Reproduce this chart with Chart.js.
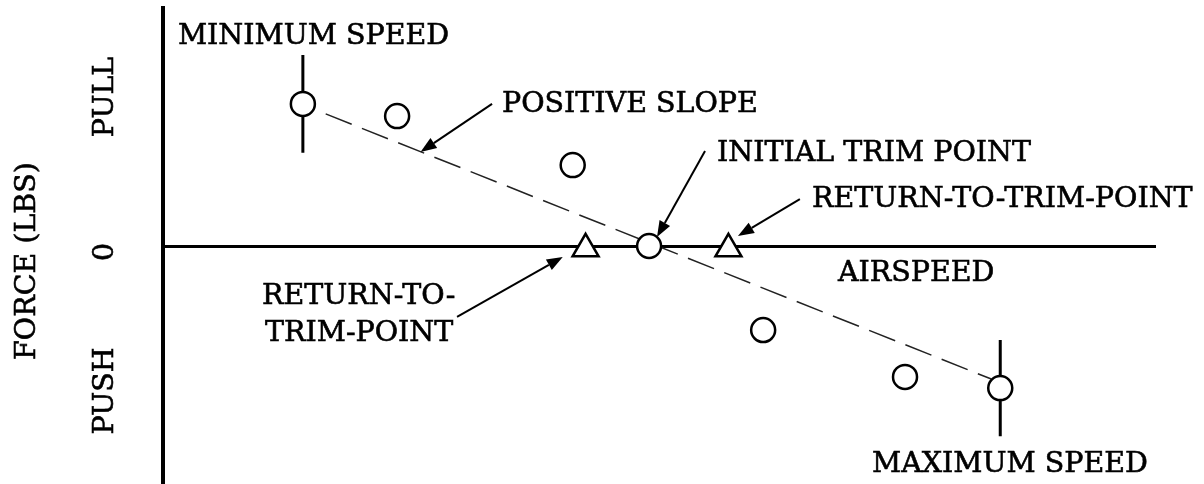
<!DOCTYPE html>
<html>
<head>
<meta charset="utf-8">
<title>Stick force vs airspeed</title>
<script src="https://cdn.jsdelivr.net/npm/chart.js@4"></script>
<style>
  html, body { margin: 0; padding: 0; background: #fff; }
  canvas { display: block; }
</style>
</head>
<body>
<canvas id="chart" width="1204" height="484"></canvas>
<script>
// test points, airspeed in arbitrary units, force + = pull, - = push
const airspeed = [14.1, 23.6, 41.3, 49.0, 60.5, 74.8, 84.4];
const force = [5.97, 5.46, 3.40, 0, -3.53, -5.50, -5.97];

// where the stick came back to after release
const returnAirspeed = [42.6, 57.0];
const returnForce = [-0.12, -0.12];

// half height of the scatter bars at min / max speed
const limitSpread = [2.05, 2.02];

// faired line through the points
const trendAirspeed = [16.4, 83.5];
const trendForce = [5.55, -5.59];

// side labels on the force axis
const forceTicks = [6.26, -0.25, -6.09];
const forceTickLabels = ['PULL', '0', 'PUSH'];

const FONT = '28.5px "DejaVu Serif"';

const notes = [
  { text: 'MINIMUM SPEED', x: 1.5, y: 8.49 },
  { text: 'POSITIVE SLOPE', x: 34.17, y: 5.63 },
  { text: 'INITIAL TRIM POINT', x: 55.85, y: 3.57 },
  { text: 'RETURN-TO-TRIM-POINT', x: 65.42, y: 1.64 },
  { text: 'AIRSPEED', x: 68.04, y: -1.47 },
  { text: 'RETURN-TO-', x: 9.98, y: -2.44 },
  { text: 'TRIM-POINT', x: 10.28, y: -3.99 },
  { text: 'MAXIMUM SPEED', x: 71.47, y: -9.5 }
];

const arrows = [
  { from: [33.17, 5.97], to: [25.96, 3.95] },
  { from: [54.64, 3.99], to: [49.8, 0.38] },
  { from: [64.2, 1.97], to: [57.96, 0.42] },
  { from: [29.64, -2.98], to: [40.3, -0.46] }
];

const points = airspeed.map((x, i) => ({ x: x, y: force[i] }));
const returns = returnAirspeed.map((x, i) => ({ x: x, y: returnForce[i] }));
const last = airspeed.length - 1;

function limitBar(i, spread) {
  return [
    { x: airspeed[i], y: force[i] + spread },
    { x: airspeed[i], y: force[i] - spread }
  ];
}

const annotate = {
  id: 'annotate',
  afterDatasetsDraw(chart) {
    const ctx = chart.ctx;
    const xs = chart.scales.x;
    const ys = chart.scales.y;
    ctx.save();
    ctx.fillStyle = '#000';
    ctx.strokeStyle = '#000';

    arrows.forEach((a) => {
      const x1 = xs.getPixelForValue(a.from[0]);
      const y1 = ys.getPixelForValue(a.from[1]);
      const x2 = xs.getPixelForValue(a.to[0]);
      const y2 = ys.getPixelForValue(a.to[1]);
      const ang = Math.atan2(y2 - y1, x2 - x1);
      const len = 16;
      const bx = x2 - Math.cos(ang) * len;
      const by = y2 - Math.sin(ang) * len;
      ctx.lineWidth = 2;
      ctx.beginPath();
      ctx.moveTo(x1, y1);
      ctx.lineTo(bx, by);
      ctx.stroke();
      ctx.beginPath();
      ctx.moveTo(x2, y2);
      ctx.lineTo(bx + Math.sin(ang) * 6, by - Math.cos(ang) * 6);
      ctx.lineTo(bx - Math.sin(ang) * 6, by + Math.cos(ang) * 6);
      ctx.closePath();
      ctx.fill();
    });

    // text a little heavier than the plain serif, like the scan
    ctx.font = FONT;
    ctx.lineWidth = 0.6;
    ctx.textAlign = 'left';
    ctx.textBaseline = 'alphabetic';
    notes.forEach((n) => {
      const px = xs.getPixelForValue(n.x);
      const py = ys.getPixelForValue(n.y);
      ctx.fillText(n.text, px, py);
      ctx.strokeText(n.text, px, py);
    });

    // rotated labels left of the force axis
    const left = chart.chartArea.left;
    ctx.textAlign = 'center';
    ctx.textBaseline = 'middle';
    const side = (text, x, y) => {
      ctx.save();
      ctx.translate(x, y);
      ctx.rotate(-Math.PI / 2);
      ctx.fillText(text, 0, 0);
      ctx.strokeText(text, 0, 0);
      ctx.restore();
    };
    forceTicks.forEach((v, i) => side(forceTickLabels[i], left - 57, ys.getPixelForValue(v)));
    side('FORCE (LBS)', left - 135, ys.getPixelForValue(-0.63));
    ctx.restore();
  }
};

new Chart(document.getElementById('chart'), {
  type: 'scatter',
  data: {
    datasets: [
      {
        data: points,
        pointStyle: 'circle',
        pointRadius: 12,
        pointBorderWidth: 2.5,
        pointBackgroundColor: '#fff',
        pointBorderColor: '#000',
        showLine: false
      },
      {
        data: returns,
        pointStyle: 'triangle',
        pointRadius: 15,
        pointBorderWidth: 2.5,
        pointBackgroundColor: '#fff',
        pointBorderColor: '#000',
        showLine: false
      },
      {
        data: limitBar(0, limitSpread[0]),
        showLine: true,
        borderColor: '#000',
        borderWidth: 3,
        pointRadius: 0
      },
      {
        data: limitBar(last, limitSpread[1]),
        showLine: true,
        borderColor: '#000',
        borderWidth: 3,
        pointRadius: 0
      },
      {
        data: trendAirspeed.map((x, i) => ({ x: x, y: trendForce[i] })),
        showLine: true,
        borderColor: '#222',
        borderWidth: 1.5,
        borderDash: [28, 11],
        pointRadius: 0
      }
    ]
  },
  options: {
    responsive: false,
    animation: false,
    events: [],
    layout: { autoPadding: false, padding: { left: 0, top: 8, right: 49, bottom: 0 } },
    plugins: {
      legend: { display: false },
      tooltip: { enabled: false }
    },
    scales: {
      x: {
        type: 'linear',
        min: 0,
        max: 100,
        position: { y: 0 },
        grid: { display: false, drawTicks: false },
        ticks: { display: false },
        border: { display: true, color: '#000', width: 3 }
      },
      y: {
        type: 'linear',
        min: -10,
        max: 10,
        position: 'left',
        grid: { display: false, drawTicks: false },
        ticks: { display: false },
        border: { display: true, color: '#000', width: 4 },
        afterFit(scale) {
          scale.width = 163;
        }
      }
    }
  },
  plugins: [annotate]
});
</script>
</body>
</html>
